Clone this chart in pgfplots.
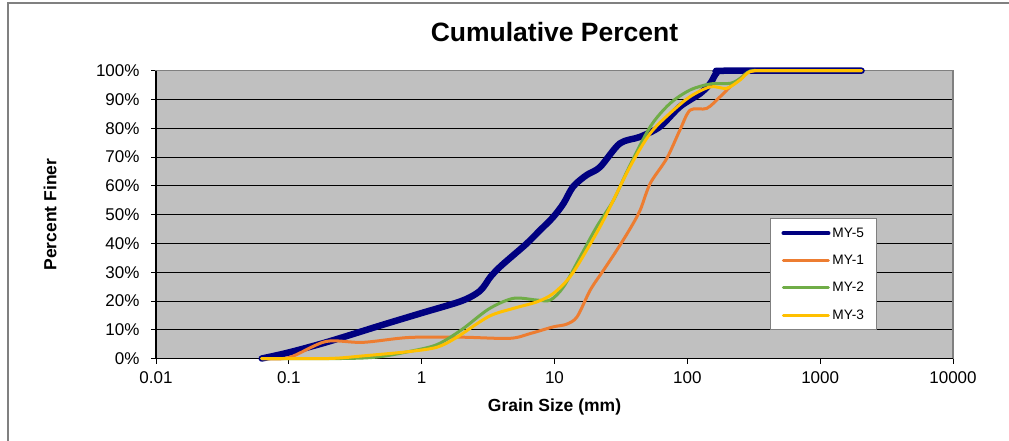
\documentclass[border=0pt]{standalone}
\usepackage{fontspec}
\setmainfont{Liberation Sans}
\usepackage{pgfplots}
\usepackage{pgfplotstable}
\pgfplotsset{compat=1.18}

\definecolor{plotbg}{HTML}{C0C0C0}
\definecolor{framegray}{HTML}{808080}
\definecolor{myfive}{HTML}{000080}
\definecolor{myone}{HTML}{ED7D31}
\definecolor{mytwo}{HTML}{70AD47}
\definecolor{mythree}{HTML}{FFC000}

% grain size (mm) vs cumulative percent finer
\pgfplotstableread{
size pct
0.0625 0
0.1 2.1
0.2 5.9
0.5 11.6
1 15.8
2 20
2.75 23.5
3.3 28.4
3.9 31.9
4.9 35.9
6.2 40
7.8 44.6
9.8 49.2
11.7 53.9
13.8 59.7
17.4 63.7
22 66.5
31 74.7
44 77
62 80.5
88 87.5
125 92.1
149 95.6
167 99.3
200 100
2048 100
}\myfive

\pgfplotstableread{
size pct
0.0625 0
0.1 0.3
0.19 5.9
0.36 5.6
0.8 7.3
2 7.4
4.6 7.0
6.6 8.7
9.8 11
12.3 11.9
14.8 14.5
18.6 23.8
23.4 30.7
29.5 37.7
37.2 45.2
44.2 51.6
52.5 60.8
70 69.5
88 79.4
105 86.3
140 86.9
177 91
210 94.4
250 97.3
297 99.7
400 100
2048 100
}\myone

\pgfplotstableread{
size pct
0.0625 0
0.25 0
0.46 0.5
0.8 2.4
1.3 4.8
2.0 10
3.2 17.2
4.9 20.9
7.4 20.3
9.3 20.3
11.7 24.9
15.6 35.3
20.8 45.8
27.8 55
36 66
52.5 80.5
74 88.6
105 93.3
149 95.4
210 95.6
250 97.3
297 99.9
400 100
2048 100
}\mytwo

\pgfplotstableread{
size pct
0.0625 0
0.2 0
0.36 0.9
0.8 2.4
1.3 3.9
1.8 7.1
3.2 14.6
4.9 17.4
7.4 19.7
9.8 22.6
13.1 28.4
17.5 37.7
23.4 48.1
37 66.6
52.5 78.2
74 85.2
105 91
149 94.4
198 93.9
250 96.8
297 99.7
400 100
2048 100
}\mythree

\begin{document}
\begin{tikzpicture}
\useasboundingbox (-156bp,-82.5bp) rectangle (853bp,358.5bp);
\draw[framegray, line width=1.2bp] (-148bp,-82.5bp) -- (-148bp,355.5bp) -- (853bp,355.5bp);
\begin{axis}[
  at={(0,0)}, anchor=south west,
  scale only axis, width=797bp, height=287.8bp,
  xmode=log, xmin=0.01, xmax=10000,
  ymin=0, ymax=100,
  xtick={0.01,0.1,1,10,100,1000,10000},
  xticklabels={0.01,0.1,1,10,100,1000,10000},
  xminorticks=false, yminorticks=false,
  ytick={0,10,...,100},
  yticklabel={\pgfmathprintnumber{\tick}\%},
  /pgf/number format/assume math mode=true,
  ymajorgrids, grid style={black, line width=0.8bp},
  axis background/.style={fill=plotbg},
  axis line style={framegray, line width=1.5bp},
  tick pos=left, tick align=outside, major tick length=5bp,
  tick style={black, line width=0.8bp},
  ticklabel style={font=\fontsize{17bp}{20bp}\selectfont},
  xticklabel style={yshift=-5bp},
  yticklabel style={xshift=-8bp},
  title={Cumulative Percent},
  title style={at={(0.5,1.1136)}, anchor=center, font=\bfseries\fontsize{26.5bp}{30bp}\selectfont},
  xlabel={Grain Size (mm)},
  xlabel style={at={(0.5,-0.1685)}, anchor=center, font=\bfseries\fontsize{17.5bp}{20bp}\selectfont},
  ylabel={Percent Finer},
  ylabel style={at={(-0.133,0.5)}, anchor=center, font=\bfseries\fontsize{17.5bp}{20bp}\selectfont},
  legend style={at={(0.771,0.487)}, anchor=north west, draw=framegray, line width=1bp,
    fill=white, font=\fontsize{13.7bp}{16bp}\selectfont,
    inner xsep=10.5bp, inner ysep=7bp, row sep=12.3bp,
    nodes={inner xsep=2bp}},
  legend cell align=left,
  legend image code/.code={\draw[#1] (0bp,0bp) -- (45bp,0bp);},
  clip=false,
]
\draw[black, line width=1.2bp] (rel axis cs:0,1) -- (rel axis cs:0,0) -- (rel axis cs:1,0);
\addplot[myfive, line width=6.5bp, smooth, line cap=round, line join=round,
  legend image post style={line width=4bp}] table[x=size, y=pct] {\myfive};
\addlegendentry{MY-5}
\addplot[myone, line width=3bp, smooth, line cap=round, line join=round] table[x=size, y=pct] {\myone};
\addlegendentry{MY-1}
\addplot[mytwo, line width=3bp, smooth, line cap=round, line join=round] table[x=size, y=pct] {\mytwo};
\addlegendentry{MY-2}
\addplot[mythree, line width=3bp, smooth, line cap=round, line join=round] table[x=size, y=pct] {\mythree};
\addlegendentry{MY-3}
\end{axis}
\end{tikzpicture}
\end{document}
